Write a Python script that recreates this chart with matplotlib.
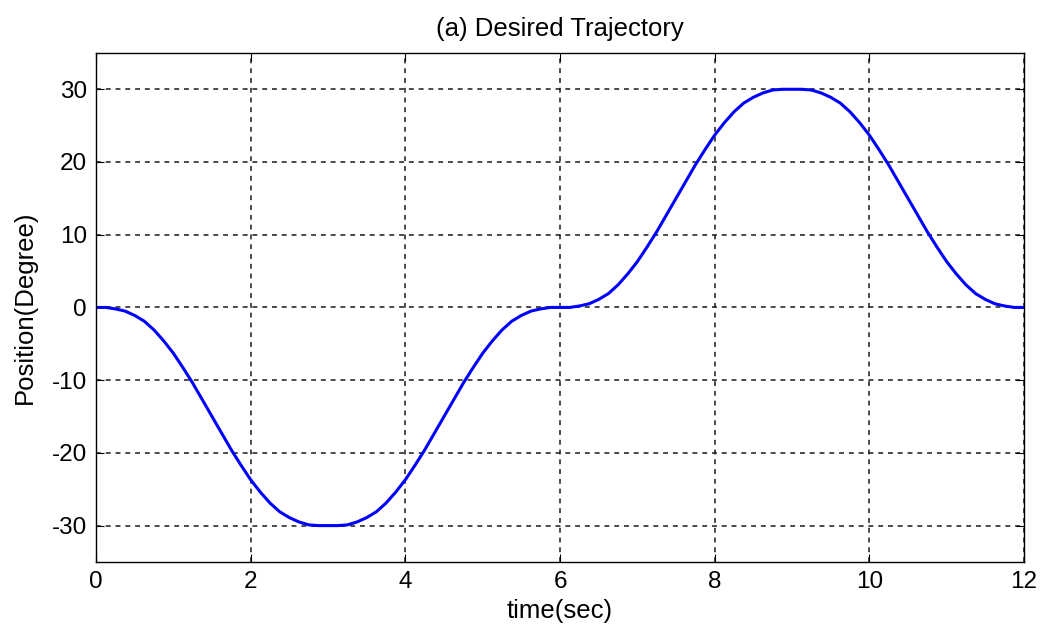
import numpy as np
import matplotlib
matplotlib.use('Agg')
import matplotlib.pyplot as plt

plt.rcParams['font.family'] = ['Liberation Sans', 'DejaVu Sans']
plt.rcParams['axes.unicode_minus'] = False

# Sollbahn: Zeit in s (Schritt 0.125 s), Position in Grad
t = np.linspace(0, 12, 97)
pos = np.array([
    # 0 .. 3 s
    0.0, 0.0, -0.2, -0.5, -1.1, -1.9, -3.1, -4.6, -6.3, -8.3, -10.4, -12.7, -15.0,
    -17.3, -19.6, -21.7, -23.7, -25.4, -26.9, -28.1, -28.9, -29.5, -29.9, -30.0, -30.0,
    # 3 .. 6 s
    -30.0, -29.9, -29.5, -28.9, -28.1, -26.9, -25.4, -23.7, -21.7, -19.6, -17.3, -15.0,
    -12.7, -10.4, -8.3, -6.3, -4.6, -3.1, -1.9, -1.1, -0.5, -0.2, 0.0, 0.0,
    # 6 .. 9 s
    0.0, 0.2, 0.5, 1.1, 1.9, 3.1, 4.6, 6.3, 8.3, 10.4, 12.7, 15.0,
    17.3, 19.6, 21.7, 23.7, 25.4, 26.9, 28.1, 28.9, 29.5, 29.9, 30.0, 30.0,
    # 9 .. 12 s
    30.0, 29.9, 29.5, 28.9, 28.1, 26.9, 25.4, 23.7, 21.7, 19.6, 17.3, 15.0,
    12.7, 10.4, 8.3, 6.3, 4.6, 3.1, 1.9, 1.1, 0.5, 0.2, 0.0, 0.0])

xticks = [0, 2, 4, 6, 8, 10, 12]
yticks = [-30, -20, -10, 0, 10, 20, 30]

fig = plt.figure(figsize=(10.45, 6.3), dpi=100)
ax = fig.add_axes([0.0919, 0.108, 0.888, 0.808])

ax.plot(t, pos, color='#0000ff', lw=2.2)

ax.set_xlim(0, 12)
ax.set_ylim(-35, 35)
ax.set_xticks(xticks)
ax.set_yticks(yticks)
ax.grid(True, color='#1a1a1a', linestyle=(0, (3.2, 3.2)), lw=1.1)
ax.tick_params(direction='in', length=6, top=True, right=True, labelsize=17.5, pad=6.5)
for s in ax.spines.values():
    s.set_linewidth(1.0)

ax.set_title('(a) Desired Trajectory', fontsize=18.5, pad=12)
ax.set_xlabel('time(sec)', fontsize=18.5, labelpad=4)
ax.set_ylabel('Position(Degree)', fontsize=18.5, labelpad=11)

plt.savefig('out.png', dpi=100)
